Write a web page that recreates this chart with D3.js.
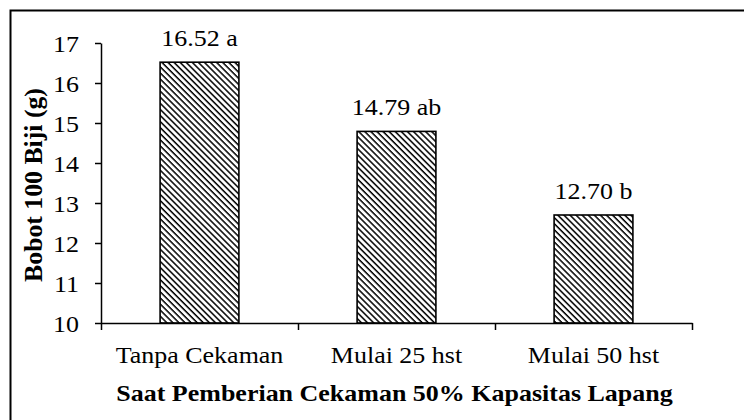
<!DOCTYPE html>
<html>
<head>
<meta charset="utf-8">
<script src="https://cdn.jsdelivr.net/npm/d3@7"></script>
<style>
	body { margin: 0; background: #fff; }
	text { font-family: "Liberation Serif", "Times New Roman", serif; fill: #000; }
</style>
</head>
<body>
<svg id="chart" width="744" height="420"></svg>
<script>
// chart data
var categories = ["Tanpa Cekaman", "Mulai 25 hst", "Mulai 50 hst"];
var values = [16.52, 14.79, 12.70];
var notations = ["a", "ab", "b"];
var yTicks = [10, 11, 12, 13, 14, 15, 16, 17];

var svg = d3.select("#chart");
var margin = {left: 101, right: 52, top: 43, bottom: 97};
var width = 744 - margin.left - margin.right;
var height = 420 - margin.top - margin.bottom;
var fs = "23px";
var stretch = "scale(1.13,1)"; // the original text is a little wider than normal

// outer frame (cut at right and bottom like the original)
svg.append("rect")
	.attr("x", 10.5).attr("y", 10.5)
	.attr("width", 800).attr("height", 500)
	.attr("fill", "none").attr("stroke", "#000").attr("stroke-width", 2);

// hatch pattern for bars
var defs = svg.append("defs");
var pat = defs.append("pattern")
	.attr("id", "hatch")
	.attr("patternUnits", "userSpaceOnUse")
	.attr("width", 4.3).attr("height", 4.3)
	.attr("patternTransform", "rotate(45)");
pat.append("rect").attr("width", 4.3).attr("height", 4.3).attr("fill", "#fff");
pat.append("rect").attr("x", 0).attr("y", 0).attr("width", 4.3).attr("height", 1.5).attr("fill", "#000");

var g = svg.append("g").attr("transform", "translate(" + margin.left + "," + margin.top + ")");

var x = d3.scaleBand().domain(categories).range([0, width]).paddingInner(0.6).paddingOuter(0.3);
var xb = d3.scaleLinear().domain([0, categories.length]).range([0, width]);
var y = d3.scaleLinear().domain([10, 17]).range([height, 0]);

// bars
g.selectAll(".bar").data(values)
	.enter().append("rect")
	.attr("class", "bar")
	.attr("x", function(d, i){ return x(categories[i]); })
	.attr("y", function(d){ return y(d); })
	.attr("width", x.bandwidth())
	.attr("height", function(d){ return height - y(d); })
	.attr("fill", "url(#hatch)")
	.attr("stroke", "#000").attr("stroke-width", 1.6);

// value labels
g.selectAll(".lbl").data(values)
	.enter().append("text")
	.attr("transform", function(d, i){
		return "translate(" + (x(categories[i]) + x.bandwidth()/2) + "," + (y(d) - 16) + ") " + stretch;
	})
	.attr("text-anchor", "middle")
	.style("font-size", fs)
	.text(function(d, i){ return d.toFixed(2) + " " + notations[i]; });

// y axis
var yAxis = g.append("g")
	.call(d3.axisLeft(y).tickValues(yTicks).tickFormat(d3.format("d")).tickSize(6).tickSizeOuter(0));
yAxis.select(".domain").attr("stroke-width", 1.5);
yAxis.selectAll(".tick line").attr("stroke-width", 1.5);
yAxis.selectAll("text")
	.attr("x", null)
	.attr("transform", "translate(-22,0) " + stretch)
	.attr("dy", "0.35em")
	.style("font-size", fs);

// x axis: ticks at the category boundaries
var xAxis = g.append("g").attr("transform", "translate(0," + height + ")")
	.call(d3.axisBottom(xb).tickValues([0, 1, 2, 3]).tickSize(7).tickSizeOuter(0).tickFormat(""));
xAxis.select(".domain").attr("stroke-width", 1.5);
xAxis.selectAll(".tick line").attr("stroke-width", 1.5);

g.selectAll(".xlbl").data(categories)
	.enter().append("text")
	.attr("transform", function(d){
		return "translate(" + (x(d) + x.bandwidth()/2) + "," + (height + 40) + ") " + stretch;
	})
	.attr("text-anchor", "middle")
	.style("font-size", fs)
	.text(function(d){ return d; });

// axis titles
g.append("text")
	.attr("transform", "translate(" + (width/2 - 2) + "," + (height + 78) + ") " + stretch)
	.attr("text-anchor", "middle")
	.style("font-size", fs).style("font-weight", "bold")
	.text("Saat Pemberian Cekaman 50% Kapasitas Lapang");

g.append("text")
	.attr("transform", "translate(-59," + (height/2 + 2) + ") rotate(-90) scale(1.12,1.13)")
	.attr("text-anchor", "middle")
	.style("font-size", fs).style("font-weight", "bold")
	.text("Bobot 100 Biji (g)");
</script>
</body>
</html>
